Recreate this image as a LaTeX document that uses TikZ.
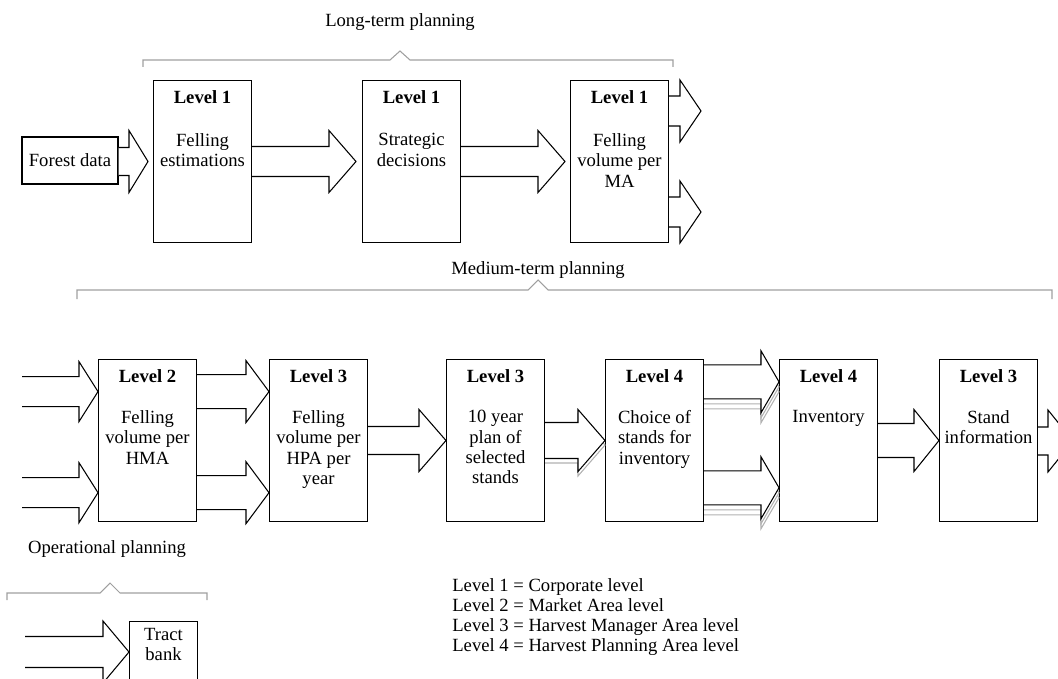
\documentclass[tikz,border=0pt]{standalone}
\usepackage{fontspec}
\setmainfont{Liberation Serif}
\usetikzlibrary{calc,positioning}

\newcommand\fatarrow[6][]{%
  \filldraw[fat,#1] ($(#2 |- #3)+(0,-#4)$) -- ($(#3)+(-#6,-#4)$) -- ($(#3)+(-#6,-#5)$)
    -- (#3) -- ($(#3)+(-#6,#5)$) -- ($(#3)+(-#6,#4)$) -- ($(#2 |- #3)+(0,#4)$);}

\begin{document}
\begin{tikzpicture}
        [x=0.02cm, y=-0.02cm, font=\fontsize{10.6}{11.6}\selectfont,
         box/.style={draw, fill=white, line width=0.6pt, minimum width=1.96cm, minimum height=3.24cm, anchor=north west, inner sep=0pt},
         lvl/.style={font=\fontsize{10.6}{11.6}\selectfont\bfseries, inner sep=0pt},
         txt/.style={align=center, inner sep=0pt},
         fat/.style={draw=black, fill=white, line width=0.6pt, line join=miter},
         shade/.style={draw=gray!60, fill=white, line width=0.6pt},
         brk/.style={draw=gray!75, line width=0.6pt}]
        \useasboundingbox (0,0) rectangle (1058,679);
        \clip (0,0) rectangle (1058,679);

        \node (lt) at (400,22) {Long-term planning};
        \draw[brk] (143,67) -- (143,60) -- (390,60) -- (400,51) -- (410,60) -- (673,60) -- (673,67);

        \node[draw, fill=white, line width=0.6pt, minimum width=1.92cm, minimum height=0.94cm, inner sep=0pt] (fd) at (70,160.5) {Forest data};
        \node[box] (fe) at (153,80) {};
        \node[box] (sd) at (362,80) {};
        \node[box] (fv) at (570,80) {};
        \node[lvl, below=0.2cm of fe.north] (fe-l) {Level 1};
        \node[lvl, below=0.2cm of sd.north] (sd-l) {Level 1};
        \node[lvl, below=0.2cm of fv.north] (fv-l) {Level 1};
        \node[txt, below=1.06cm of fe.north] (fe-t) {Felling\\estimations};
        \node[txt, below=1.06cm of sd.north] (sd-t) {Strategic\\decisions};
        \node[txt, below=1.06cm of fv.north] (fv-t) {Felling\\volume per\\MA};
        \coordinate (p1) at ([xshift=-0.1cm]fe.west);
        \coordinate (p2) at ([xshift=-0.12cm]sd.west);
        \coordinate (p3) at ([xshift=-0.1cm]fv.west);
        \coordinate (o1) at (701,111);
        \coordinate (o2) at (701,212);
        \fatarrow{fd.east}{p1}{14}{31}{19}
        \fatarrow{fe.east}{p2}{15}{31}{27}
        \fatarrow{sd.east}{p3}{15}{31}{27}
        \fatarrow{fv.east}{o1}{15}{31}{21}
        \fatarrow{fv.east}{o2}{15}{31}{21}

        \node (mt) at (538,270) {Medium-term planning};
        \draw[brk] (77,299) -- (77,290) -- (528,290) -- (538,280) -- (548,290) -- (1052,290) -- (1052,299);

        \node[box] (hma) at (98,359) {};
        \node[box] (hpa) at (269,359) {};
        \node[box] (ty) at (446,359) {};
        \node[box] (ch) at (605,359) {};
        \node[box] (inv) at (779,359) {};
        \node[box] (si) at (939,359) {};
        \node[lvl, below=0.2cm of hma.north] (hma-l) {Level 2};
        \node[lvl, below=0.2cm of hpa.north] (hpa-l) {Level 3};
        \node[lvl, below=0.2cm of ty.north] (ty-l) {Level 3};
        \node[lvl, below=0.2cm of ch.north] (ch-l) {Level 4};
        \node[lvl, below=0.2cm of inv.north] (inv-l) {Level 4};
        \node[lvl, below=0.2cm of si.north] (si-l) {Level 3};
        \node[txt, below=1.02cm of hma.north] (hma-t) {Felling\\volume per\\HMA};
        \node[txt, below=1.02cm of hpa.north] (hpa-t) {Felling\\volume per\\HPA per\\year};
        \node[txt, below=1.02cm of ty.north] (ty-t) {10 year\\plan of\\selected\\stands};
        \node[txt, below=1.02cm of ch.north] (ch-t) {Choice of\\stands for\\inventory};
        \node[txt, below=1.02cm of inv.north] (inv-t) {Inventory};
        \node[txt, below=1.02cm of si.north] (si-t) {Stand\\information};

        \coordinate (lft) at (22,0);
        \coordinate (a1) at ($(hma.north west)!0.2!(hma.south west)$);
        \coordinate (a2) at ($(hma.north west)!0.82!(hma.south west)$);
        \coordinate (b1) at ($(hpa.north west)!0.2!(hpa.south west)$);
        \coordinate (b2) at ($(hpa.north west)!0.82!(hpa.south west)$);
        \coordinate (c1) at ($(inv.north west)!0.14!(inv.south west)$);
        \coordinate (c2) at ($(inv.north west)!0.79!(inv.south west)$);
        \coordinate (out) at (1073,441);
        \fatarrow{lft}{a1}{15}{30}{19}
        \fatarrow{lft}{a2}{15}{30}{19}
        \fatarrow{hma.east}{b1}{17}{31}{23}
        \fatarrow{hma.east}{b2}{17}{31}{23}
        \fatarrow{hpa.east}{ty.west}{14}{31}{27}
        \fatarrow[shade, transform canvas={yshift=-0.09cm}]{ty.east}{ch.west}{18}{31}{27}
        \fatarrow{ty.east}{ch.west}{18}{31}{27}
        \foreach \c in {c1,c2} {
          \fatarrow[shade, transform canvas={yshift=-0.2cm}]{ch.east}{\c}{17}{31}{18}
          \fatarrow[shade, transform canvas={yshift=-0.1cm}]{ch.east}{\c}{17}{31}{18}
          \fatarrow{ch.east}{\c}{17}{31}{18}
        }
        \fatarrow{inv.east}{si.west}{17}{31}{25}
        \fatarrow{si.east}{out}{14}{31}{25}

        \node[anchor=base west] (op) at (22,553) {Operational planning};
        \draw[brk] (7,600) -- (7,593) -- (100,593) -- (110,583) -- (120,593) -- (207,593) -- (207,600);
        \node[draw, fill=white, line width=0.6pt, minimum width=1.36cm, minimum height=2cm, anchor=north west] (tb) at (129,621) {};
        \node[txt, below=0.14cm of tb.north] (tb-t) {Tract\\bank};
        \coordinate (tl) at (25,0);
        \fatarrow{tl}{tb.west |- 0,652}{15.5}{31}{26}

        \foreach \i/\t in {1/Corporate, 2/Market Area, 3/Harvest Manager Area, 4/Harvest Planning Area}
          \node[anchor=base west, inner sep=0pt] (lg\i) at (452,{571+20*\i}) {Level \i{} = \t{} level};
\end{tikzpicture}
\end{document}
